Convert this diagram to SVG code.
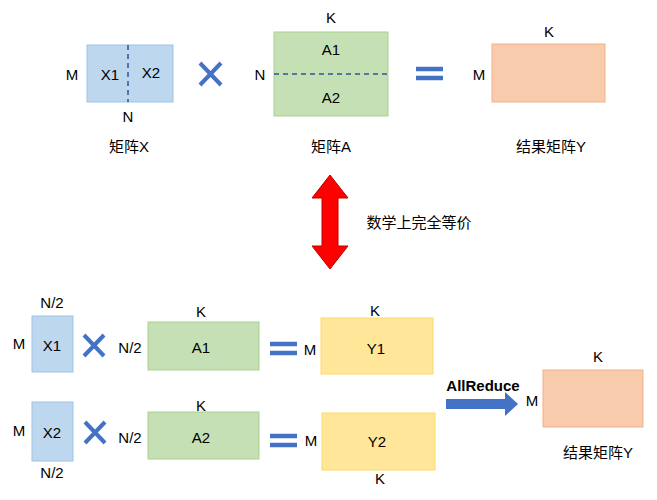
<svg xmlns="http://www.w3.org/2000/svg" width="657" height="500" viewBox="0 0 657 500">
<style>
text{font-family:"Liberation Sans","Noto Sans CJK SC",sans-serif;font-size:15px;fill:#000;text-anchor:middle;dominant-baseline:central}
.bl{fill:#bdd7ee;stroke:#9dc3e6;stroke-width:1}
.gr{fill:#c5e0b4;stroke:#a9d18e;stroke-width:1}
.ye{fill:#ffe699;stroke:#ffd966;stroke-width:1}
.or{fill:#f8cbad;stroke:#f4b183;stroke-width:1}
.x{stroke:#4472c4;stroke-width:4;fill:none}
.eq{stroke:#4472c4;stroke-width:4.5}
.dash{stroke:#2f5597;stroke-width:1.5;stroke-dasharray:5,4}
</style>
<g id="matX"><rect class="bl" x="87" y="45" width="86" height="57"/><line class="dash" x1="128" y1="45" x2="128" y2="102"/><text x="110" y="74">X1</text><text x="151" y="72">X2</text><text x="72" y="74">M</text><text x="128" y="116">N</text><text x="129" y="146">矩阵X</text></g>
<g id="times1"><path class="x" d="M200 63L221 85M221 63L200 85"/></g>
<g id="matA"><rect class="gr" x="274" y="32" width="114" height="84"/><line class="dash" x1="274" y1="74" x2="388" y2="74"/><text x="331" y="49">A1</text><text x="331" y="97">A2</text><text x="331" y="17">K</text><text x="260" y="74">N</text><text x="331" y="146">矩阵A</text></g>
<g id="eq1"><line class="eq" x1="416" y1="69" x2="443" y2="69"/><line class="eq" x1="416" y1="78" x2="443" y2="78"/></g>
<g id="matY"><rect class="or" x="492" y="44" width="113" height="58"/><text x="549" y="31">K</text><text x="479" y="74">M</text><text x="551" y="146">结果矩阵Y</text></g>
<g id="equiv"><path d="M330 175L348 198H338V246H348L330 269L312 246H322V198H312Z" fill="#ff0000" stroke="#c00000" stroke-width="1"/><text x="419" y="222">数学上完全等价</text></g>
<g id="row1"><rect class="bl" x="32" y="316" width="41" height="56"/><text x="52" y="345">X1</text><text x="52" y="302">N/2</text><text x="19" y="343">M</text>
<path class="x" d="M84 335L104 356M104 335L84 356"/><text x="130" y="347">N/2</text>
<rect class="gr" x="148" y="322" width="111" height="48"/><text x="201" y="347">A1</text><text x="201" y="311">K</text>
<line class="eq" x1="270" y1="344" x2="297" y2="344"/><line class="eq" x1="270" y1="353" x2="297" y2="353"/><text x="310" y="349">M</text>
<rect class="ye" x="321" y="318" width="112" height="56"/><text x="376" y="348">Y1</text><text x="375" y="310">K</text></g>
<g id="row2"><rect class="bl" x="32" y="402" width="41" height="59"/><text x="52" y="432">X2</text><text x="52" y="472">N/2</text><text x="19" y="430">M</text>
<path class="x" d="M85 422L105 443M105 422L85 443"/><text x="130" y="437">N/2</text>
<rect class="gr" x="148" y="412" width="111" height="47"/><text x="201" y="437">A2</text><text x="201" y="405">K</text>
<line class="eq" x1="270" y1="436" x2="297" y2="436"/><line class="eq" x1="270" y1="445" x2="297" y2="445"/><text x="311" y="440">M</text>
<rect class="ye" x="322" y="413" width="113" height="57"/><text x="377" y="441">Y2</text><text x="380" y="478">K</text></g>
<g id="connectors"><path d="M446 399H505V392L518 404L505 416V409H446Z" fill="#4472c4"/><text x="483" y="385" style="font-weight:bold">AllReduce</text></g>
<g id="result"><rect class="or" x="543" y="370" width="100" height="57"/><text x="598" y="356">K</text><text x="532" y="400">M</text><text x="598" y="452">结果矩阵Y</text></g>
</svg>
